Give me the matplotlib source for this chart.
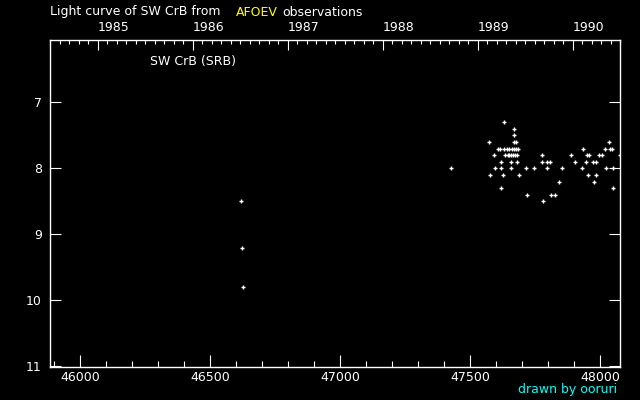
import matplotlib
matplotlib.use("Agg")
import matplotlib.pyplot as plt
import numpy as np

# AFOEV visual estimates of SW CrB, JD - 2400000
jd = [46619, 46623, 46627, 47427, 47573, 47577, 47592, 47596, 47606, 47614,
      47619, 47619, 47619, 47627, 47630, 47631, 47633, 47641, 47643, 47649,
      47650, 47656, 47657, 47657, 47660, 47664, 47668, 47669, 47669, 47669,
      47672, 47675, 47676, 47679, 47680, 47683, 47688, 47715, 47719, 47746,
      47777, 47777, 47780, 47796, 47796, 47807, 47811, 47827, 47842, 47853,
      47888, 47903, 47930, 47934, 47946, 47950, 47953, 47957, 47973, 47977,
      47984, 47984, 47996, 48007, 48019, 48023, 48034, 48038, 48046, 48050,
      48050, 48076]
mag = [8.5, 9.2, 9.8, 8.0, 7.6, 8.1, 7.8, 8.0, 7.7, 7.7,
       7.9, 8.0, 8.3, 8.1, 7.3, 7.7, 7.8, 7.7, 7.8, 7.8,
       7.7, 7.8, 7.9, 8.0, 7.7, 7.8, 7.7, 7.4, 7.5, 7.6,
       7.8, 7.7, 7.6, 7.8, 7.9, 7.7, 8.1, 8.0, 8.4, 8.0,
       7.8, 7.9, 8.5, 7.9, 8.0, 7.9, 8.4, 8.4, 8.2, 8.0,
       7.8, 7.9, 8.0, 7.7, 7.9, 7.8, 8.1, 7.8, 7.9, 8.2,
       7.9, 8.1, 7.8, 7.8, 7.7, 8.0, 7.6, 7.7, 7.7, 8.0,
       8.3, 7.8]

years = [1985, 1986, 1987, 1988, 1989, 1990]
jd_1985 = 46066.5  # Jan 1 1985

xmin, xmax = 45883, 48076.5
ymin, ymax = 11.01, 6.056

fs = 9
fig = plt.figure(figsize=(6.4, 4.0), dpi=100, facecolor="black")
ax = fig.add_axes([50 / 640, 1 - 367 / 400, 570.3 / 640, 327 / 400])
ax.set_facecolor("black")

ax.plot(jd, mag, linestyle="none", marker="+", color="white",
        markersize=3, markeredgewidth=1, clip_on=True)

ax.set_xlim(xmin, xmax)
ax.set_ylim(ymin, ymax)

for s in ax.spines.values():
    s.set_color("white")
    s.set_linewidth(1.0)

ax.set_xticks(np.arange(46000, 48001, 500))
ax.set_xticks(np.arange(45900, 48077, 100), minor=True)
ax.set_yticks([7, 8, 9, 10, 11])
ax.tick_params(axis="x", which="major", direction="in", length=9, width=0.8,
               colors="white", labelsize=fs, pad=3, top=False)
ax.tick_params(axis="x", which="minor", direction="in", length=4.5, width=0.8,
               colors="white", top=False)
ax.tick_params(axis="y", which="major", direction="in", length=8, width=0.8,
               colors="white", labelsize=fs, left=True, right=True, pad=6)

# top axis in calendar years, labels start at the tick
ax2 = ax.twiny()
ax2.set_xlim(xmin, xmax)
ax2.set_xticks([jd_1985 + (y - 1985) * 365.25 for y in years])
ax2.set_xticklabels([str(y) for y in years], ha="left")
minor_years = np.arange(1984.5, 1990.6, 0.1)
minor_jd = [jd_1985 + (y - 1985) * 365.25 for y in minor_years]
ax2.set_xticks([j for j in minor_jd if xmin < j < xmax], minor=True)
ax2.tick_params(axis="x", which="major", direction="in", length=7, width=0.8,
                colors="white", labelsize=fs, pad=4)
ax2.tick_params(axis="x", which="minor", direction="in", length=3, width=0.8,
                colors="white")
for s in ax2.spines.values():
    s.set_visible(False)

fig.text(50 / 640, 1 - 12 / 400, "Light curve of SW CrB from", color="white",
         fontsize=fs, va="center", ha="left")
fig.text(236 / 640, 1 - 12 / 400, "AFOEV", color="yellow",
         fontsize=fs, va="center", ha="left")
fig.text(282 / 640, 1 - 12 / 400, "observations", color="white",
         fontsize=fs, va="center", ha="left")
fig.text(150 / 640, 1 - 62 / 400, "SW CrB (SRB)", color="white",
         fontsize=fs, va="center", ha="left")
fig.text(617 / 640, 1 - 390 / 400, "drawn by ooruri", color="cyan",
         fontsize=fs, va="center", ha="right")

fig.savefig("out.png", dpi=100, facecolor="black")
